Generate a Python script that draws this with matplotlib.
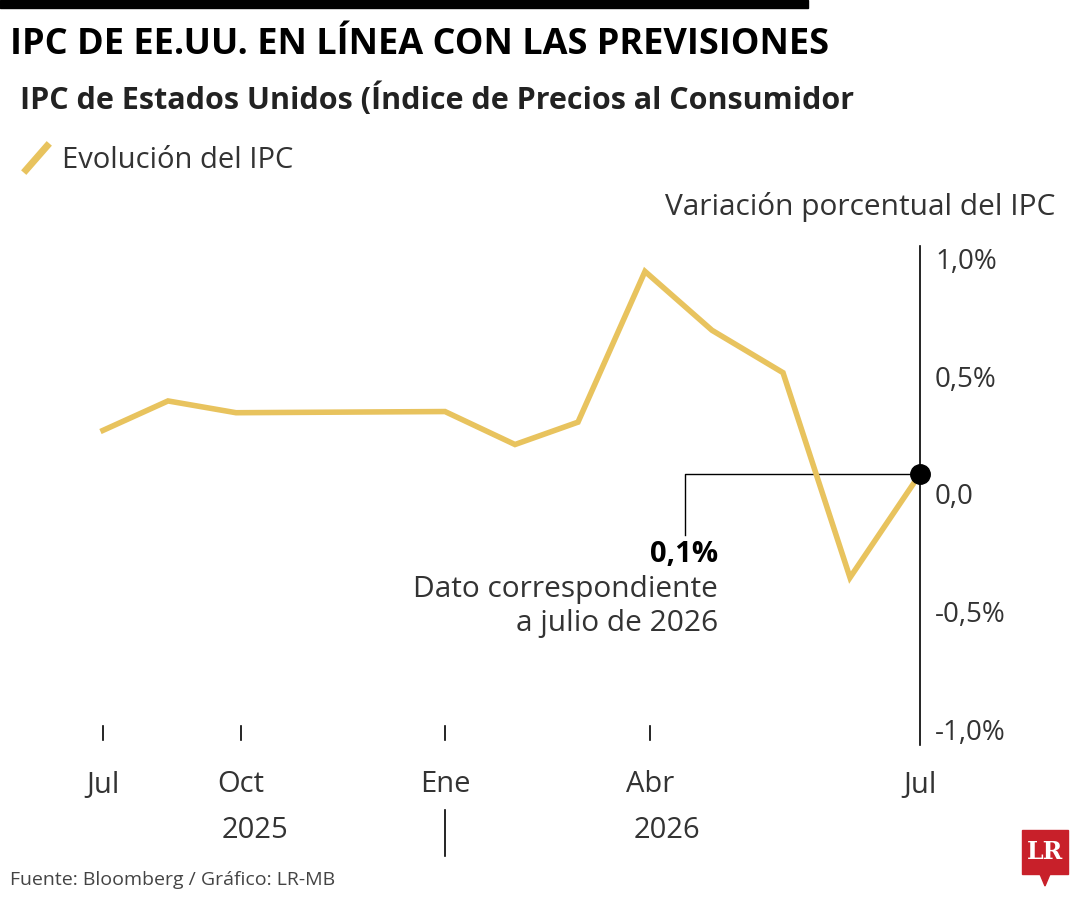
import matplotlib
matplotlib.use("Agg")
import matplotlib.pyplot as plt
from matplotlib.lines import Line2D

plt.rcParams['font.family'] = ['Open Sans', 'DejaVu Sans']

# data
x_pos = [103, 168, 236, 445, 515, 578, 645, 712, 783, 850, 920]
ipc = [0.285, 0.41, 0.36, 0.365, 0.225, 0.32, 0.96, 0.71, 0.53, -0.34, 0.10]
month_ticks = [103, 241, 445, 650, 920]
month_labels = ['Jul', 'Oct', 'Ene', 'Abr', 'Jul']
y_ticks = [1.0, 0.5, 0.0, -0.5, -1.0]
y_labels = ['1,0%', '0,5%', '0,0', '-0,5%', '-1,0%']
years = [(255, '2025'), (667, '2026')]

W, H = 1080, 900
fig = plt.figure(figsize=(W/100, H/100), dpi=100)
fig.patch.set_facecolor('white')
ov = fig.add_axes([0, 0, 1, 1])
ov.set_xlim(0, W); ov.set_ylim(H, 0); ov.axis('off')

ax = fig.add_axes([0, 1-733/H, 1, (733-262)/H])
ax.set_xlim(0, W); ax.set_ylim(-1, 1); ax.axis('off')
ax.patch.set_alpha(0)
col = '#E8C35E'
ax.plot(x_pos, ipc, color=col, lw=4, solid_joinstyle='miter', clip_on=False, zorder=3)
ax.plot([x_pos[-1]], [ipc[-1]], 'o', color='black', ms=14, zorder=5, clip_on=False)
for t, l in zip(y_ticks, y_labels):
    ax.text(935, t, l, fontsize=20, va='center', ha='left', color='#333333')
ax.plot([920, 920], [-1.05, 1.07], color='black', lw=1.2, clip_on=False)
for mt in month_ticks[:-1]:
    ax.plot([mt, mt], [-0.97, -1.03], color='black', lw=1.2, clip_on=False)
ax.plot([920, 685, 685], [ipc[-1], ipc[-1], -0.16], color='black', lw=1, zorder=2)

ov.add_patch(plt.Rectangle((0, 0), 808, 8, color='black'))
ov.text(10, 45, 'IPC DE EE.UU. EN LÍNEA CON LAS PREVISIONES', fontsize=26, fontweight='bold', va='center')
ov.text(20, 99, 'IPC de Estados Unidos (Índice de Precios al Consumidor', fontsize=22, fontweight='bold', va='center', color='#222222')
ov.add_line(Line2D([26, 47], [170, 146], color=col, lw=5))
ov.text(62, 160, 'Evolución del IPC', fontsize=21, va='center', color='#333333')
ov.text(1055, 207, 'Variación porcentual del IPC', fontsize=21.5, va='center', ha='right', color='#333333')
ov.text(718, 555, '0,1%', fontsize=21, fontweight='bold', ha='right', va='center')
ov.text(718, 590, 'Dato correspondiente', fontsize=21.5, ha='right', va='center', color='#333333')
ov.text(718, 623, 'a julio de 2026', fontsize=21.5, ha='right', va='center', color='#333333')
for mt, ml in zip(month_ticks, month_labels):
    ov.text(mt, 785, ml, fontsize=21, ha='center', va='center', color='#333333')
for yx, yl in years:
    ov.text(yx, 830, yl, fontsize=21, ha='center', va='center', color='#333333')
ov.add_line(Line2D([445, 445], [810, 856], color='black', lw=1.2))
ov.text(10, 880, 'Fuente: Bloomberg / Gráfico: LR-MB', fontsize=14, va='center', color='#444444')
ov.add_patch(plt.Rectangle((1022, 830), 46, 44, color='#C8202A'))
ov.add_patch(plt.Polygon([[1040, 874], [1050, 874], [1045, 886]], color='#C8202A'))
ov.text(1045, 852, 'LR', fontsize=17, fontweight='bold', color='white', ha='center', va='center', family='DejaVu Serif')

fig.savefig('out.png', dpi=100)
